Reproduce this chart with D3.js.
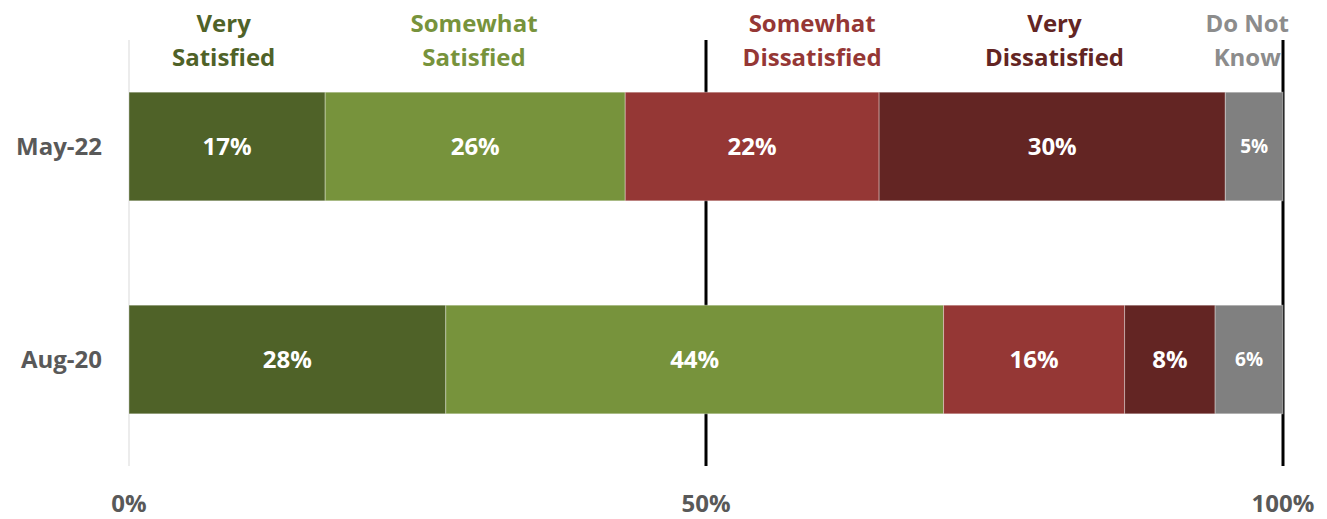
<!DOCTYPE html>
<html>
<head>
<meta charset="utf-8">
<script src="https://cdn.jsdelivr.net/npm/d3@7"></script>
<style>
  body { margin: 0; background: #fff; }
  svg text { font-family: "Open Sans", Lato, sans-serif; font-weight: 700; }
</style>
</head>
<body>
<svg id="chart"></svg>
<script>
// data
const periods = ["May-22", "Aug-20"];
const responses = ["Very Satisfied", "Somewhat Satisfied", "Somewhat Dissatisfied", "Very Dissatisfied", "Do Not Know"];
const may22 = [17, 26, 22, 30, 5];
const aug20 = [28, 44, 16, 8, 6];
const ticks = [0, 50, 100];

const colors = ["#4F6228", "#77933C", "#953735", "#632523", "#808080"];
const headerColors = ["#4F6228", "#77933C", "#953735", "#632523", "#8C8C8C"];

const w = 1327, h = 519;
const svg = d3.select("#chart").attr("width", w).attr("height", h);

const x = d3.scaleLinear().domain([0, 100]).range([129, 1283]);
const y = d3.scaleBand().domain(periods).range([40, 466])
    .paddingInner(0.49).paddingOuter(0.245);

// stack rows (each row normalised to 100%)
const rows = [may22, aug20].map((vals, r) => {
    const total = d3.sum(vals);
    let acc = 0;
    return vals.map((v, i) => {
        const seg = { period: periods[r], i: i, v: v, x0: acc, x1: acc + v / total * 100 };
        acc = seg.x1;
        return seg;
    });
});
const segs = rows.flat();

// reference lines
svg.append("line")
    .attr("x1", x(0)).attr("x2", x(0))
    .attr("y1", 40).attr("y2", 466)
    .attr("stroke", "#D9D9D9").attr("stroke-width", 1);

svg.selectAll("line.ref")
    .data([50, 100])
    .enter().append("line")
    .attr("class", "ref")
    .attr("x1", d => x(d)).attr("x2", d => x(d))
    .attr("y1", 40).attr("y2", 466)
    .attr("stroke", "#000").attr("stroke-width", 3);

// bars
svg.selectAll("rect.seg")
    .data(segs)
    .enter().append("rect")
    .attr("class", "seg")
    .attr("x", d => x(d.x0))
    .attr("y", d => y(d.period))
    .attr("width", d => x(d.x1) - x(d.x0))
    .attr("height", y.bandwidth())
    .attr("fill", d => colors[d.i])
    .attr("stroke", "rgba(255,255,255,0.35)")
    .attr("stroke-width", 1);

// value labels
svg.selectAll("text.val")
    .data(segs)
    .enter().append("text")
    .attr("class", "val")
    .attr("x", d => x((d.x0 + d.x1) / 2))
    .attr("y", d => y(d.period) + y.bandwidth() / 2)
    .attr("dy", "0.36em")
    .attr("text-anchor", "middle")
    .attr("fill", "#fff")
    .style("font-size", d => d.i === 4 ? "19px" : "24px")
    .text(d => d.v + "%");

// category labels
svg.selectAll("text.cat")
    .data(periods)
    .enter().append("text")
    .attr("class", "cat")
    .attr("x", 102)
    .attr("y", d => y(d) + y.bandwidth() / 2)
    .attr("dy", "0.36em")
    .attr("text-anchor", "end")
    .attr("fill", "#595959")
    .style("font-size", "24px")
    .text(d => d);

// x tick labels
svg.selectAll("text.tick")
    .data(ticks)
    .enter().append("text")
    .attr("class", "tick")
    .attr("x", d => x(d))
    .attr("y", 503)
    .attr("dy", "0.36em")
    .attr("text-anchor", "middle")
    .attr("fill", "#595959")
    .style("font-size", "24px")
    .text(d => d + "%");

// header labels (two lines)
const headerAt = [8.2, 29.9, 59.2, 80.2, 96.9];
const hdr = svg.selectAll("text.hdr")
    .data(responses)
    .enter().append("text")
    .attr("class", "hdr")
    .attr("text-anchor", "middle")
    .attr("fill", (d, i) => headerColors[i])
    .style("font-size", "24px");

hdr.each(function (d, i) {
    const parts = d.split(" ");
    const lines = parts.length === 3 ? [parts.slice(0, 2).join(" "), parts[2]] : parts;
    d3.select(this).selectAll("tspan")
        .data(lines)
        .enter().append("tspan")
        .attr("x", x(headerAt[i]))
        .attr("y", (l, k) => 32 + k * 34)
        .text(l => l);
});
</script>
</body>
</html>
